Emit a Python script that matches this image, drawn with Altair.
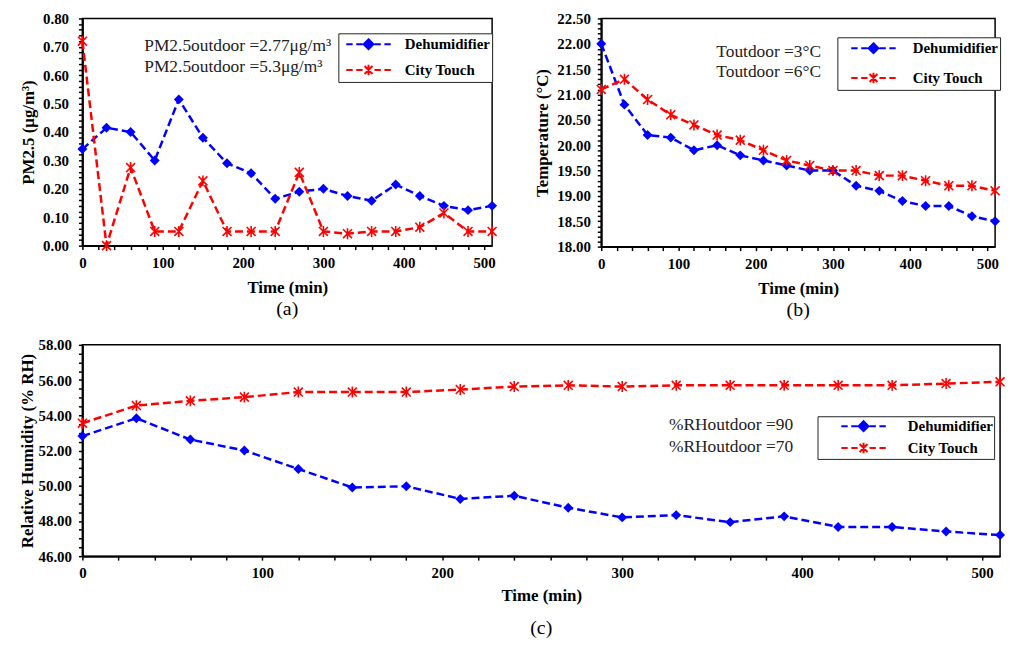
import altair as alt
import pandas as pd
import numpy as np

# ---------------- data ----------------
time_min = [0, 30, 60, 90, 120, 150, 180, 210, 240, 270, 300, 330, 360, 390, 420, 450, 480, 510]
series_names = ["Dehumidifier", "City Touch"]
series_colors = ["#0000FF", "#FF0000"]

pm_dehumidifier = [0.34, 0.415, 0.40, 0.30, 0.515, 0.38, 0.29, 0.255, 0.165, 0.19, 0.20, 0.175,
                   0.158, 0.215, 0.175, 0.14, 0.125, 0.14]
pm_city_touch = [0.72, 0.00, 0.275, 0.05, 0.05, 0.228, 0.05, 0.05, 0.05, 0.258, 0.05, 0.042,
                 0.05, 0.05, 0.065, 0.115, 0.05, 0.05]

temp_dehumidifier = [22.0, 20.8, 20.2, 20.15, 19.9, 20.0, 19.8, 19.7, 19.6, 19.5, 19.5, 19.2,
                     19.1, 18.9, 18.8, 18.8, 18.6, 18.5]
temp_city_touch = [21.1, 21.3, 20.9, 20.6, 20.4, 20.2, 20.1, 19.9, 19.7, 19.6, 19.5, 19.5,
                   19.4, 19.4, 19.3, 19.2, 19.2, 19.1]

rh_dehumidifier = [52.82, 53.83, 52.62, 52.0, 50.95, 49.9, 49.97, 49.25, 49.43, 48.75, 48.2, 48.33,
                   47.93, 48.26, 47.66, 47.66, 47.4, 47.2]
rh_city_touch = [53.55, 54.55, 54.82, 55.03, 55.32, 55.32, 55.32, 55.46, 55.63, 55.7, 55.63, 55.7,
                 55.7, 55.7, 55.7, 55.7, 55.8, 55.9]

# tick labels
x_major_ticks = [0, 100, 200, 300, 400, 500]
pm_major_ticks = [0.0, 0.1, 0.2, 0.3, 0.4, 0.5, 0.6, 0.7, 0.8]
temp_major_ticks = [18.0, 18.5, 19.0, 19.5, 20.0, 20.5, 21.0, 21.5, 22.0, 22.5]
rh_major_ticks = [46, 48, 50, 52, 54, 56, 58]

# annotations (text, data position)
pm_notes = ["PM2.5outdoor =2.77μg/m³", "PM2.5outdoor =5.3μg/m³"]
pm_note_x = [77, 77]
pm_note_y = [0.704, 0.628]
temp_notes = ["Toutdoor =3°C", "Toutdoor =6°C"]
temp_note_x = [149, 149]
temp_note_y = [21.84, 21.45]
rh_notes = ["%RHoutdoor =90", "%RHoutdoor =70"]
rh_note_x = [326, 326]
rh_note_y = [53.44, 52.22]

# ---------------- styling helpers ----------------
FONT = "Liberation Serif"
ASTERISK = "M-0.9,-0.9L0.9,0.9M-0.9,0.9L0.9,-0.9M0,-1.1L0,1.1"
LEG_DASHES = "M-1,0L-0.2,0M0.25,0L1.05,0M2.55,0L3.35,0M3.8,0L4.6,0"
LEG_DIAMOND = LEG_DASHES + "M1.8,-0.62L2.42,0L1.8,0.62L1.18,0ZM1.8,-0.3L2.1,0L1.8,0.3L1.5,0ZM1.65,0L1.95,0"
LEG_STAR = LEG_DASHES + "M1.3,-0.5L2.3,0.5M1.3,0.5L2.3,-0.5M1.8,-0.65L1.8,0.65"

x_minor = [int(v) for v in range(0, 511, 20)]


def expr_for(majors, mult):
    return ("indexof(" + str([float(m) for m in majors]) + ", round(datum.value*" + str(mult) +
            ")/" + str(mult) + ") >= 0 ? format(datum.value, '.2f') : ''")


def long_frame(v1, v2):
    return pd.DataFrame({
        "time": time_min * 2,
        "value": list(v1) + list(v2),
        "series": [series_names[0]] * len(time_min) + [series_names[1]] * len(time_min),
    })


def panel(v1, v2, ydom, yvals, ymajor_expr, ytitle, notes, nx, ny, width, height,
          caption, cap_offset, leg, ytitle_lh=None, x_lp=6, x_tp=9, y_tp=5, y_lp=10,
          note_size=17.5):
    df = long_frame(v1, v2)
    xaxis = alt.Axis(values=x_minor, title="Time (min)",
                     labelExpr="datum.value % 100 === 0 ? datum.label : ''",
                     labelPadding=x_lp, titlePadding=x_tp, labelOverlap=False,
                     labelFlush=False, ticks=True, tickSize=4)
    yaxis_kwargs = dict(values=yvals, title=ytitle, format=".2f",
                        labelExpr=ymajor_expr, labelPadding=y_lp, titlePadding=y_tp,
                        labelOverlap=False, labelFlush=False, ticks=True, tickSize=4)
    if ytitle_lh is not None:
        yaxis_kwargs["titleLineHeight"] = ytitle_lh
    yaxis = alt.Axis(**yaxis_kwargs)
    xenc = alt.X("time:Q", scale=alt.Scale(domain=[0, 510], nice=False, zero=False), axis=xaxis)
    yenc = alt.Y("value:Q", scale=alt.Scale(domain=ydom, nice=False, zero=False), axis=yaxis)

    base = alt.Chart(df)
    line_d = base.transform_filter(alt.datum.series == series_names[0]).mark_line(
        strokeDash=[8, 4], strokeWidth=2.5, color=series_colors[0]).encode(x=xenc, y=yenc)
    line_c = base.transform_filter(alt.datum.series == series_names[1]).mark_line(
        strokeDash=[8, 4], strokeWidth=2.5, color=series_colors[1]).encode(x=xenc, y=yenc)
    pts_d = base.transform_filter(alt.datum.series == series_names[0]).mark_point(
        shape="diamond", filled=True, size=100, color=series_colors[0], opacity=1).encode(
        x=xenc, y=yenc)
    pts_c = base.transform_filter(alt.datum.series == series_names[1]).mark_point(
        shape=ASTERISK, filled=False, size=100, color=series_colors[1], strokeWidth=1.6,
        opacity=1).encode(x=xenc, y=yenc)

    legend = alt.Legend(title=None, orient="none", legendX=leg["x"], legendY=leg["y"],
                        strokeColor="#222222", fillColor="white", padding=leg["pad"],
                        rowPadding=leg["row"], symbolSize=256, symbolStrokeWidth=2,
                        labelOffset=leg["lo"], symbolOffset=leg.get("so", 0),
                        labelFont=FONT, labelFontWeight="bold", labelFontSize=15,
                        labelColor="black")
    cscale = alt.Scale(domain=series_names, range=series_colors)
    sscale = alt.Scale(domain=series_names, range=[LEG_DIAMOND, LEG_STAR])
    leg_layer = base.transform_filter("false").mark_point(
        filled=False, size=256, strokeWidth=2, opacity=1).encode(
        x=xenc, y=yenc,
        color=alt.Color("series:N", scale=cscale, legend=legend),
        shape=alt.Shape("series:N", scale=sscale, legend=legend))

    ndf = pd.DataFrame({"note": notes, "time": nx, "value": ny})
    text = alt.Chart(ndf).mark_text(align="left", baseline="middle", font=FONT,
                                    fontSize=note_size, color="#222222").encode(
        x=xenc, y=yenc, text="note:N")

    return alt.layer(line_d, line_c, pts_d, pts_c, leg_layer, text).properties(
        width=width, height=height,
        title=alt.TitleParams(text=caption, orient="bottom", anchor="middle", frame="group",
                              offset=cap_offset, font=FONT, fontSize=20,
                              fontWeight="normal", color="black"))


pm_vals = [float(round(v, 2)) for v in np.arange(0, 0.8001, 0.02)]
temp_vals = [float(round(v, 1)) for v in np.arange(18.0, 22.5001, 0.1)]
rh_vals = [float(round(v, 1)) for v in np.arange(46.0, 58.001, 0.5)]

chart_a = panel(pm_dehumidifier, pm_city_touch, [0, 0.8], pm_vals, expr_for(pm_major_ticks, 100),
                ["", "PM2.5 (μg/m³)"], pm_notes, pm_note_x, pm_note_y, 413, 229, "(a)", 4,
                {"x": 258, "y": 15, "pad": 2, "row": 7, "lo": 42, "so": 5}, ytitle_lh=10.5,
                note_size=17.5)
chart_b = panel(temp_dehumidifier, temp_city_touch, [18.0, 22.5], temp_vals,
                expr_for(temp_major_ticks, 10),
                "Temperature (°C)", temp_notes, temp_note_x, temp_note_y, 397, 230, "(b)", 4,
                {"x": 238, "y": 19, "pad": 2, "row": 11, "lo": 45, "so": 11}, y_lp=7)
chart_c = panel(rh_dehumidifier, rh_city_touch, [46, 58], rh_vals, expr_for(rh_major_ticks, 10),
                "Relative Humidity (% RH)", rh_notes, rh_note_x, rh_note_y, 925, 213, "(c)", 14,
                {"x": 741, "y": 72, "pad": 1, "row": 3, "lo": 50, "so": 22},
                x_tp=7, y_tp=2, y_lp=7)

chart = alt.vconcat(
    alt.hconcat(chart_a, chart_b, spacing=32).resolve_scale(
        color="independent", shape="independent").resolve_legend(
        color="independent", shape="independent"),
    chart_c,
    spacing=16,
).resolve_scale(
    color="independent", shape="independent"
).resolve_legend(
    color="independent", shape="independent"
).properties(
    padding={"left": 0, "top": 0, "right": 0, "bottom": 0},
    autosize=alt.AutoSizeParams(type="pad"),
).configure(
    padding={"left": 0, "top": 0, "right": 0, "bottom": 0}
).configure_view(
    stroke="black", strokeWidth=1.5
).configure_axis(
    domainColor="black", domainWidth=2, tickColor="black", tickWidth=1.5, tickSize=4,
    labelFont=FONT, labelFontWeight="bold", labelFontSize=15, labelColor="black",
    titleFont=FONT, titleFontWeight="bold", titleFontSize=17, titleColor="black",
    grid=False, labelOverlap=False, labelFlush=False
)

chart.save("out.html", embed_options={"renderer": "svg", "actions": False})
